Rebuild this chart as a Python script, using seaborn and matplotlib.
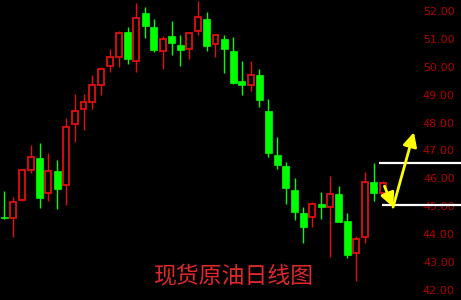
import numpy as np
import pandas as pd
import seaborn as sns
import matplotlib
matplotlib.use("Agg")
import matplotlib.pyplot as plt

# ---- data (daily candles) ----
opens = [44.60, 44.57, 45.23, 46.30, 46.74, 45.47, 46.28, 45.76, 47.94, 48.50,
         48.74, 49.34, 50.04, 50.34, 51.25, 50.22, 51.92, 51.43, 50.58, 51.09,
         50.78, 50.64, 51.27, 51.71, 50.81, 50.99, 50.56, 49.47, 49.36, 49.72,
         48.42, 46.84, 46.44, 45.57, 44.75, 44.61, 45.07, 44.96, 45.44, 44.47,
         43.32, 43.89, 45.87, 45.49]
closes = [44.58, 45.14, 46.30, 46.78, 45.29, 46.28, 45.63, 47.84, 48.41, 48.75,
          49.34, 49.91, 50.34, 51.21, 50.29, 51.75, 51.47, 50.60, 51.01, 50.86,
          50.61, 51.21, 51.77, 50.73, 51.13, 50.64, 49.42, 49.36, 49.72, 48.80,
          46.89, 46.46, 45.67, 44.80, 44.25, 45.07, 44.96, 45.44, 44.43, 43.25,
          43.84, 45.87, 45.47, 45.84]
highs = [45.55, 45.34, 46.30, 47.19, 47.26, 46.89, 46.65, 48.15, 49.01, 49.01,
         49.72, 49.99, 50.65, 51.28, 51.43, 52.29, 52.13, 51.72, 51.10, 51.63,
         51.13, 51.24, 52.36, 51.95, 51.16, 51.13, 51.06, 50.22, 50.20, 49.91,
         48.85, 47.48, 46.58, 46.00, 44.97, 45.14, 45.50, 46.09, 45.74, 44.75,
         43.94, 46.22, 46.54, 45.90]
lows = [44.55, 43.89, 45.17, 46.20, 44.95, 45.17, 44.89, 45.06, 47.30, 47.73,
        48.50, 48.99, 49.82, 49.99, 50.10, 49.82, 51.04, 50.51, 49.93, 50.42,
        50.04, 50.27, 51.13, 50.57, 50.34, 49.78, 49.38, 48.99, 49.13, 48.56,
        46.76, 46.33, 45.09, 44.50, 43.70, 44.26, 44.54, 43.18, 44.42, 43.16,
        42.32, 43.70, 45.17, 45.34]
ytick_values = [42, 43, 44, 45, 46, 47, 48, 49, 50, 51, 52]
ytick_labels = ["42.00", "43.00", "44.00", "45.00", "46.00", "47.00",
                "48.00", "49.00", "50.00", "51.00", "52.00"]
level_lines = [46.55, 45.06]
level_starts = [42.58, 42.88]
arrow_path_x = [43.2, 44.18, 46.55]
arrow_path_y = [45.72, 44.97, 47.65]
title_text = "现货原油日线图"

df = pd.DataFrame({"day": np.arange(len(opens)), "open": opens, "close": closes,
                   "high": highs, "low": lows})
df["up"] = df["close"] >= df["open"]

sns.set_theme(style="dark", rc={"axes.facecolor": "black", "figure.facecolor": "black"})
plt.rcParams["font.family"] = ["Noto Sans CJK SC", "DejaVu Sans"]

RED = "#e01010"
GREEN = "#00ff00"

fig = plt.figure(figsize=(4.61, 3.00), dpi=100)
ax = fig.add_axes([0, 0, 1, 1])
ax.set_facecolor("black")

width = 0.78
for _, r in df.iterrows():
    col = RED if r["up"] else GREEN
    lo_body = min(r["open"], r["close"])
    hi_body = max(r["open"], r["close"])
    ax.vlines(r["day"], r["low"], r["high"], color=col, lw=1.0, zorder=2)
    h = max(hi_body - lo_body, 0.03)
    if r["up"]:
        ax.bar(r["day"], h, bottom=lo_body, width=width - 0.12, facecolor="black",
               edgecolor=col, linewidth=1.3, zorder=3)
    else:
        ax.bar(r["day"], h, bottom=lo_body, width=width, facecolor=col,
               edgecolor=col, linewidth=0.5, zorder=3)

ax.set_xlim(-0.49, 51.9)
ax.set_ylim(41.64, 52.39)

for y, x0 in zip(level_lines, level_starts):
    ax.hlines(y, x0, 51.9, color="white", lw=1.6, zorder=5)

arrow_kw = dict(arrowstyle="-|>,head_length=0.6,head_width=0.3", color="#ffff00",
                lw=2.0, mutation_scale=14, shrinkA=0, shrinkB=0)
ax.annotate("", xy=(arrow_path_x[1], arrow_path_y[1]),
            xytext=(arrow_path_x[0], arrow_path_y[0]), arrowprops=arrow_kw, zorder=6)
ax.annotate("", xy=(arrow_path_x[2], arrow_path_y[2]),
            xytext=(arrow_path_x[1], arrow_path_y[1]), arrowprops=arrow_kw, zorder=6)

ax.set_yticks(ytick_values)
ax.set_yticklabels(ytick_labels, ha="right", family="DejaVu Sans")
ax.yaxis.tick_right()
ax.tick_params(axis="y", length=0, pad=-4.5, labelsize=8, labelcolor="#b00000")
ax.set_xticks([])
ax.grid(False)
for s in ax.spines.values():
    s.set_visible(False)

fig.text(0.506, 0.077, title_text, color="#e02828", fontsize=16.5,
         ha="center", va="center")

fig.savefig("out.png", dpi=100, facecolor="black")
